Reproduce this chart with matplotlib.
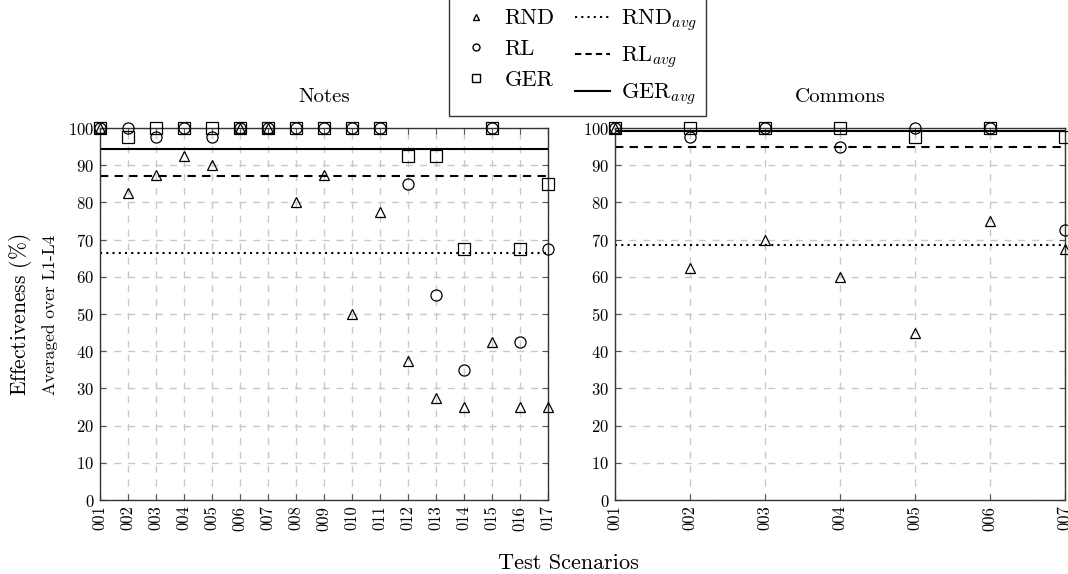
import numpy as np
import matplotlib
matplotlib.use("Agg")
import matplotlib.pyplot as plt
from matplotlib.lines import Line2D

plt.rcParams['font.family'] = 'serif'
plt.rcParams['font.serif'] = ['cmr10', 'DejaVu Serif']
plt.rcParams['mathtext.fontset'] = 'cm'
plt.rcParams['axes.formatter.use_mathtext'] = True

# Notes scenarios
notes_labels = ['001', '002', '003', '004', '005', '006', '007', '008', '009',
                '010', '011', '012', '013', '014', '015', '016', '017']
notes_rnd = [100, 82.5, 87.5, 92.5, 90, 100, 100, 80, 87.5, 50, 77.5, 37.5, 27.5, 25, 42.5, 25, 25]
notes_rl = [100, 100, 97.5, 100, 97.5, 100, 100, 100, 100, 100, 100, 85, 55, 35, 100, 42.5, 67.5]
notes_ger = [100, 97.5, 100, 100, 100, 100, 100, 100, 100, 100, 100, 92.5, 92.5, 67.5, 100, 67.5, 85]

# Commons scenarios
commons_labels = ['001', '002', '003', '004', '005', '006', '007']
commons_rnd = [100, 62.5, 70, 60, 45, 75, 67.5]
commons_rl = [100, 97.5, 100, 95, 100, 100, 72.5]
commons_ger = [100, 100, 100, 100, 97.5, 100, 97.5]

fig = plt.figure(figsize=(10.68, 5.74), dpi=100)
ax1 = fig.add_axes([0.0936, 0.1289, 0.4195, 0.648])
ax2 = fig.add_axes([0.5758, 0.1289, 0.4213, 0.648])


def panel(ax, labels, rnd, rl, ger, title):
    x = np.arange(1, len(labels) + 1)
    ax.plot(x, rnd, ls='none', marker='^', ms=7, mfc='none', mec='black', mew=0.9, clip_on=False, zorder=4)
    ax.plot(x, rl, ls='none', marker='o', ms=8, mfc='none', mec='black', mew=0.9, clip_on=False, zorder=4)
    ax.plot(x, ger, ls='none', marker='s', ms=8, mfc='none', mec='black', mew=0.9, clip_on=False, zorder=4)
    ax.axhline(np.mean(rnd), color='black', ls=(0, (1, 2)), lw=1.5)
    ax.axhline(np.mean(rl), color='black', ls=(0, (4, 3)), lw=1.5)
    ax.axhline(np.mean(ger), color='black', ls='-', lw=1.5)
    ax.set_xlim(1, len(labels))
    ax.set_ylim(0, 100)
    ax.set_xticks(x)
    ax.set_xticklabels(labels, rotation=90, fontsize=12)
    ax.set_yticks(np.arange(0, 101, 10))
    ax.tick_params(axis='y', labelsize=12)
    ax.tick_params(direction='in', top=True, right=True, length=4, color='#555555', pad=4)
    ax.grid(True, color='#c8c8c8', ls=(0, (5, 5)), lw=1)
    ax.set_axisbelow(True)
    for s in ax.spines.values():
        s.set_linewidth(1)
        s.set_color('#333333')
    ax.set_title(title, fontsize=15, pad=19)


panel(ax1, notes_labels, notes_rnd, notes_rl, notes_ger, 'Notes')
panel(ax2, commons_labels, commons_rnd, commons_rl, commons_ger, 'Commons')

handles = [
    Line2D([], [], ls='none', marker='^', ms=5, mfc='none', mec='black'),
    Line2D([], [], ls='none', marker='o', ms=5, mfc='none', mec='black'),
    Line2D([], [], ls='none', marker='s', ms=6, mfc='none', mec='black'),
    Line2D([], [], color='black', ls=(0, (1, 2)), lw=1.5),
    Line2D([], [], color='black', ls=(0, (3, 2)), lw=1.5),
    Line2D([], [], color='black', ls='-', lw=1.5),
]
names = ['RND', 'RL', 'GER', r'RND$_{avg}$', r'RL$_{avg}$', r'GER$_{avg}$']
leg = fig.legend(handles, names, ncol=2, loc='upper center', bbox_to_anchor=(0.541, 1.003),
                 fontsize=16, frameon=True, fancybox=False, edgecolor='black',
                 handlelength=1.6, columnspacing=0.9, handletextpad=0.5,
                 borderpad=0.4, labelspacing=0.5, borderaxespad=0)
leg.get_frame().set_linewidth(1)

fig.text(0.019, 0.451, r'Effectiveness ($\%$)', rotation=90, ha='center', va='center', fontsize=15.5)
fig.text(0.047, 0.451, 'Averaged over L1-L4', rotation=90, ha='center', va='center', fontsize=12.5)
fig.text(0.532, 0.018, 'Test Scenarios', ha='center', va='center', fontsize=16)

fig.savefig('out.png', dpi=100)
